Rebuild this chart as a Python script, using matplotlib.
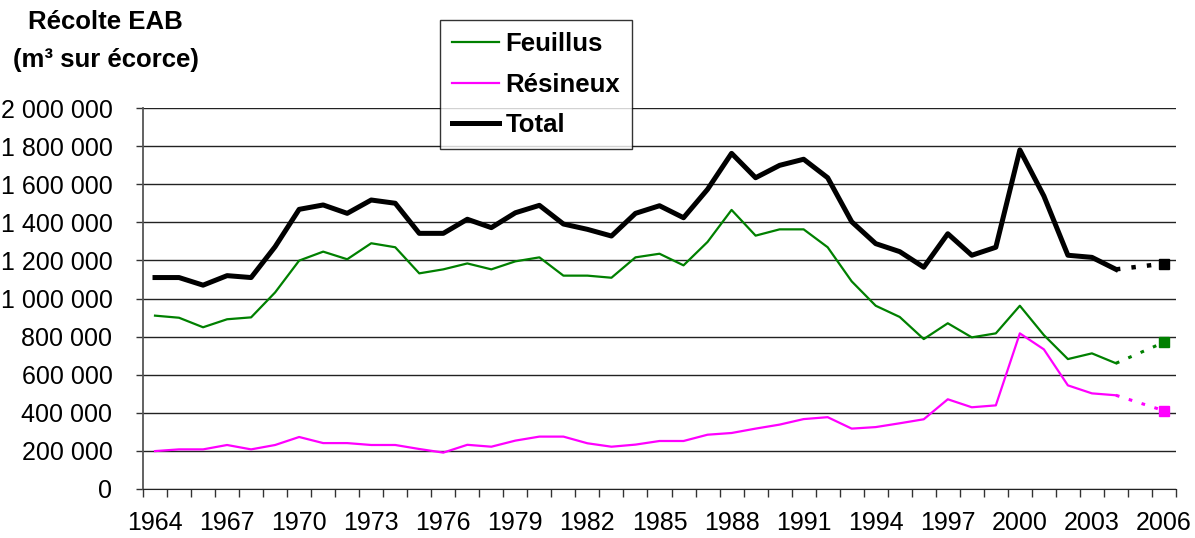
import matplotlib
matplotlib.use("Agg")
import matplotlib.pyplot as plt
import numpy as np

years = list(range(1964, 2005))
feuillus = [910000, 899000, 849000, 891000, 901000, 1032000, 1199000, 1246000, 1206000, 1290000,
            1269000, 1132000, 1153000, 1184000, 1153000, 1195000, 1216000, 1120000, 1120000, 1109000,
            1216000, 1235000, 1174000, 1297000, 1465000, 1330000, 1363000, 1363000, 1269000, 1090000,
            962000, 903000, 787000, 870000, 796000, 817000, 962000, 808000, 682000, 712000, 660000]
resineux = [199000, 208000, 208000, 231000, 208000, 231000, 273000, 241000, 241000, 231000,
            231000, 210000, 191000, 232000, 222000, 254000, 275000, 275000, 240000, 222000,
            233000, 252000, 252000, 285000, 294000, 317000, 338000, 367000, 377000, 317000,
            325000, 345000, 366000, 471000, 429000, 439000, 817000, 733000, 544000, 502000, 492000]
total = [1110000, 1110000, 1070000, 1120000, 1110000, 1272000, 1468000, 1491000, 1447000, 1517000,
         1500000, 1342000, 1342000, 1416000, 1372000, 1450000, 1489000, 1391000, 1363000, 1328000,
         1447000, 1487000, 1424000, 1573000, 1762000, 1634000, 1699000, 1731000, 1634000, 1403000,
         1288000, 1246000, 1164000, 1340000, 1227000, 1269000, 1780000, 1538000, 1227000, 1216000, 1153000]

proj_years = [2004, 2006]
proj_feuillus = [660000, 770000]
proj_resineux = [492000, 411000]
proj_total = [1153000, 1183000]

tick_years = list(range(1964, 2007, 3))
y_ticks = list(range(0, 2000001, 200000))

def fmt(v):
    return f"{v:,}".replace(",", " ")

plt.rcParams['font.family'] = ['Liberation Sans', 'DejaVu Sans']

fig = plt.figure(figsize=(11.95, 5.38), dpi=100)
ax = fig.add_axes([143/1195, 1 - 489/538, (1176-143)/1195, (489-108)/538])

GREEN = '#008000'
MAG = '#FF00FF'

ax.plot(years, feuillus, color=GREEN, lw=1.6, label='Feuillus', zorder=3)
ax.plot(years, resineux, color=MAG, lw=1.6, label='Résineux', zorder=3)
ax.plot(years, total, color='black', lw=3.6, label='Total', zorder=4)

ax.plot(proj_years, proj_feuillus, color=GREEN, lw=2.2, ls=(0, (1.2, 3.2)), zorder=3)
ax.plot(proj_years, proj_resineux, color=MAG, lw=2.2, ls=(0, (1.2, 3.2)), zorder=3)
ax.plot(proj_years, proj_total, color='black', lw=3.2, ls=(0, (1.0, 2.5)), zorder=4)
ax.plot(proj_years[-1:], proj_feuillus[-1:], 's', color=GREEN, ms=7.5, zorder=5)
ax.plot(proj_years[-1:], proj_resineux[-1:], 's', color=MAG, ms=7.5, zorder=5)
ax.plot(proj_years[-1:], proj_total[-1:], 's', color='black', ms=7.5, zorder=5)

ax.set_xlim(1963.5, 2006.5)
ax.set_ylim(0, 2000000)
ax.set_yticks(y_ticks)
ax.set_yticklabels([fmt(v) for v in y_ticks], fontsize=18)
ax.set_xticks(tick_years)
ax.set_xticklabels([str(y) for y in tick_years], fontsize=18)
ax.set_xticks(np.arange(1963.5, 2007, 1), minor=True)
ax.tick_params(axis='x', which='major', length=0, pad=16)
ax.tick_params(axis='x', which='minor', length=6, width=1, color='#333333')
ax.tick_params(axis='y', which='major', length=5, width=1, color='#333333', pad=17)

for v in y_ticks:
    ax.axhline(v, color='#222222', lw=1.0, zorder=1)

for s in ['top', 'right']:
    ax.spines[s].set_visible(False)
ax.spines['left'].set_color('#555555')
ax.spines['left'].set_linewidth(1.3)
ax.spines['bottom'].set_color('#222222')

fig.text(105/1195, 1 - 22/538, 'Récolte EAB', ha='center', va='center', fontsize=18.5, fontweight='bold')
fig.text(106/1195, 1 - 60/538, '(m³ sur écorce)', ha='center', va='center', fontsize=18.5, fontweight='bold')

leg = ax.legend(loc='upper left', bbox_to_anchor=(440/1195, 1 - 20/538), bbox_transform=fig.transFigure,
                prop={'weight': 'bold', 'size': 18.5}, frameon=True, fancybox=False, edgecolor='black',
                handlelength=1.85, handletextpad=0.25, labelspacing=0.66, borderpad=0.45, borderaxespad=0)
leg.get_frame().set_linewidth(1.0)
leg.set_zorder(10)

fig.savefig('out.png', dpi=100)
